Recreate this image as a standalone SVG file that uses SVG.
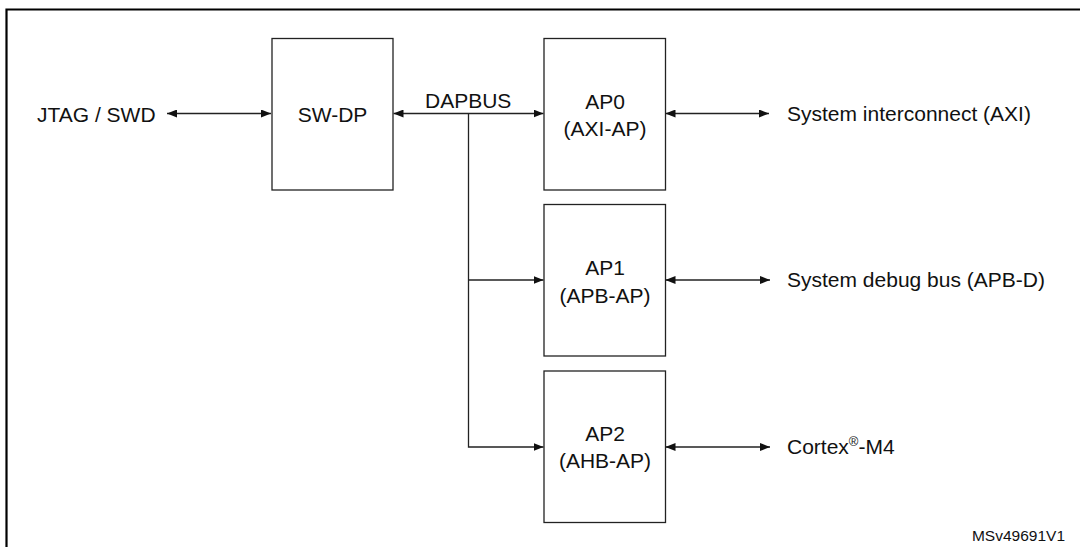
<svg xmlns="http://www.w3.org/2000/svg" width="1080" height="547" viewBox="0 0 1080 547">
  <style>
    .box { fill: #ffffff; stroke: #222222; stroke-width: 1.3; }
    .lbl { font-family: "Liberation Sans", Arial, sans-serif; font-size: 21px; fill: #111111; }
    .c { text-anchor: middle; }
    .conn { fill: none; stroke: #222222; stroke-width: 1.3; }
    .frame { fill: none; stroke: #000000; stroke-width: 2.2; }
    .ref { font-family: "Liberation Sans", Arial, sans-serif; font-size: 15.5px; fill: #111111; text-anchor: end; }
  </style>
  <defs>
    <marker id="arr" viewBox="0 0 10 8" refX="10" refY="4" markerWidth="10" markerHeight="8" markerUnits="userSpaceOnUse" orient="auto-start-reverse">
      <path d="M0,0 L10,4 L0,8 Z" fill="#111111"/>
    </marker>
  </defs>
  <rect width="1080" height="547" fill="#ffffff"/>
  <path class="frame" d="M6.5,547 V9.5 H1080"/>

  <g id="connectors">
    <line class="conn" x1="167" y1="113.5" x2="271" y2="113.5" marker-start="url(#arr)" marker-end="url(#arr)"/>
    <line class="conn" x1="393.5" y1="113.5" x2="543.5" y2="113.5" marker-start="url(#arr)" marker-end="url(#arr)"/>
    <path class="conn" d="M468.5,113.5 V447 H543.5" marker-end="url(#arr)"/>
    <line class="conn" x1="468.5" y1="280" x2="543.5" y2="280" marker-end="url(#arr)"/>
    <line class="conn" x1="665.5" y1="113.5" x2="769" y2="113.5" marker-start="url(#arr)" marker-end="url(#arr)"/>
    <line class="conn" x1="665.5" y1="280" x2="770" y2="280" marker-start="url(#arr)" marker-end="url(#arr)"/>
    <line class="conn" x1="665.5" y1="447" x2="770" y2="447" marker-start="url(#arr)" marker-end="url(#arr)"/>
  </g>

  <g id="jtag">
    <text class="lbl" x="37" y="121.5">JTAG / SWD</text>
  </g>
  <g id="swdp">
    <rect class="box" x="272" y="38.5" width="121" height="151.5"/>
    <text class="lbl c" x="332.5" y="121.5">SW-DP</text>
  </g>
  <g id="dapbus">
    <text class="lbl" x="425" y="108">DAPBUS</text>
  </g>
  <g id="ap0">
    <rect class="box" x="544" y="38.5" width="121.5" height="151.5"/>
    <text class="lbl c" x="605" y="108.5">AP0</text>
    <text class="lbl c" x="605" y="135.5">(AXI-AP)</text>
  </g>
  <g id="ap1">
    <rect class="box" x="544" y="204.5" width="121.5" height="151.5"/>
    <text class="lbl c" x="605" y="275">AP1</text>
    <text class="lbl c" x="605" y="303">(APB-AP)</text>
  </g>
  <g id="ap2">
    <rect class="box" x="544" y="371" width="121.5" height="151.5"/>
    <text class="lbl c" x="605" y="441">AP2</text>
    <text class="lbl c" x="605" y="468">(AHB-AP)</text>
  </g>
  <g id="axi">
    <text class="lbl" x="787" y="120.5">System interconnect (AXI)</text>
  </g>
  <g id="apbd">
    <text class="lbl" x="787" y="287">System debug bus (APB-D)</text>
  </g>
  <g id="cortex">
    <text class="lbl" x="787" y="454">Cortex<tspan font-size="13" dy="-8">®</tspan><tspan dy="8">-M4</tspan></text>
  </g>
  <text class="ref" x="1065" y="541">MSv49691V1</text>
</svg>
